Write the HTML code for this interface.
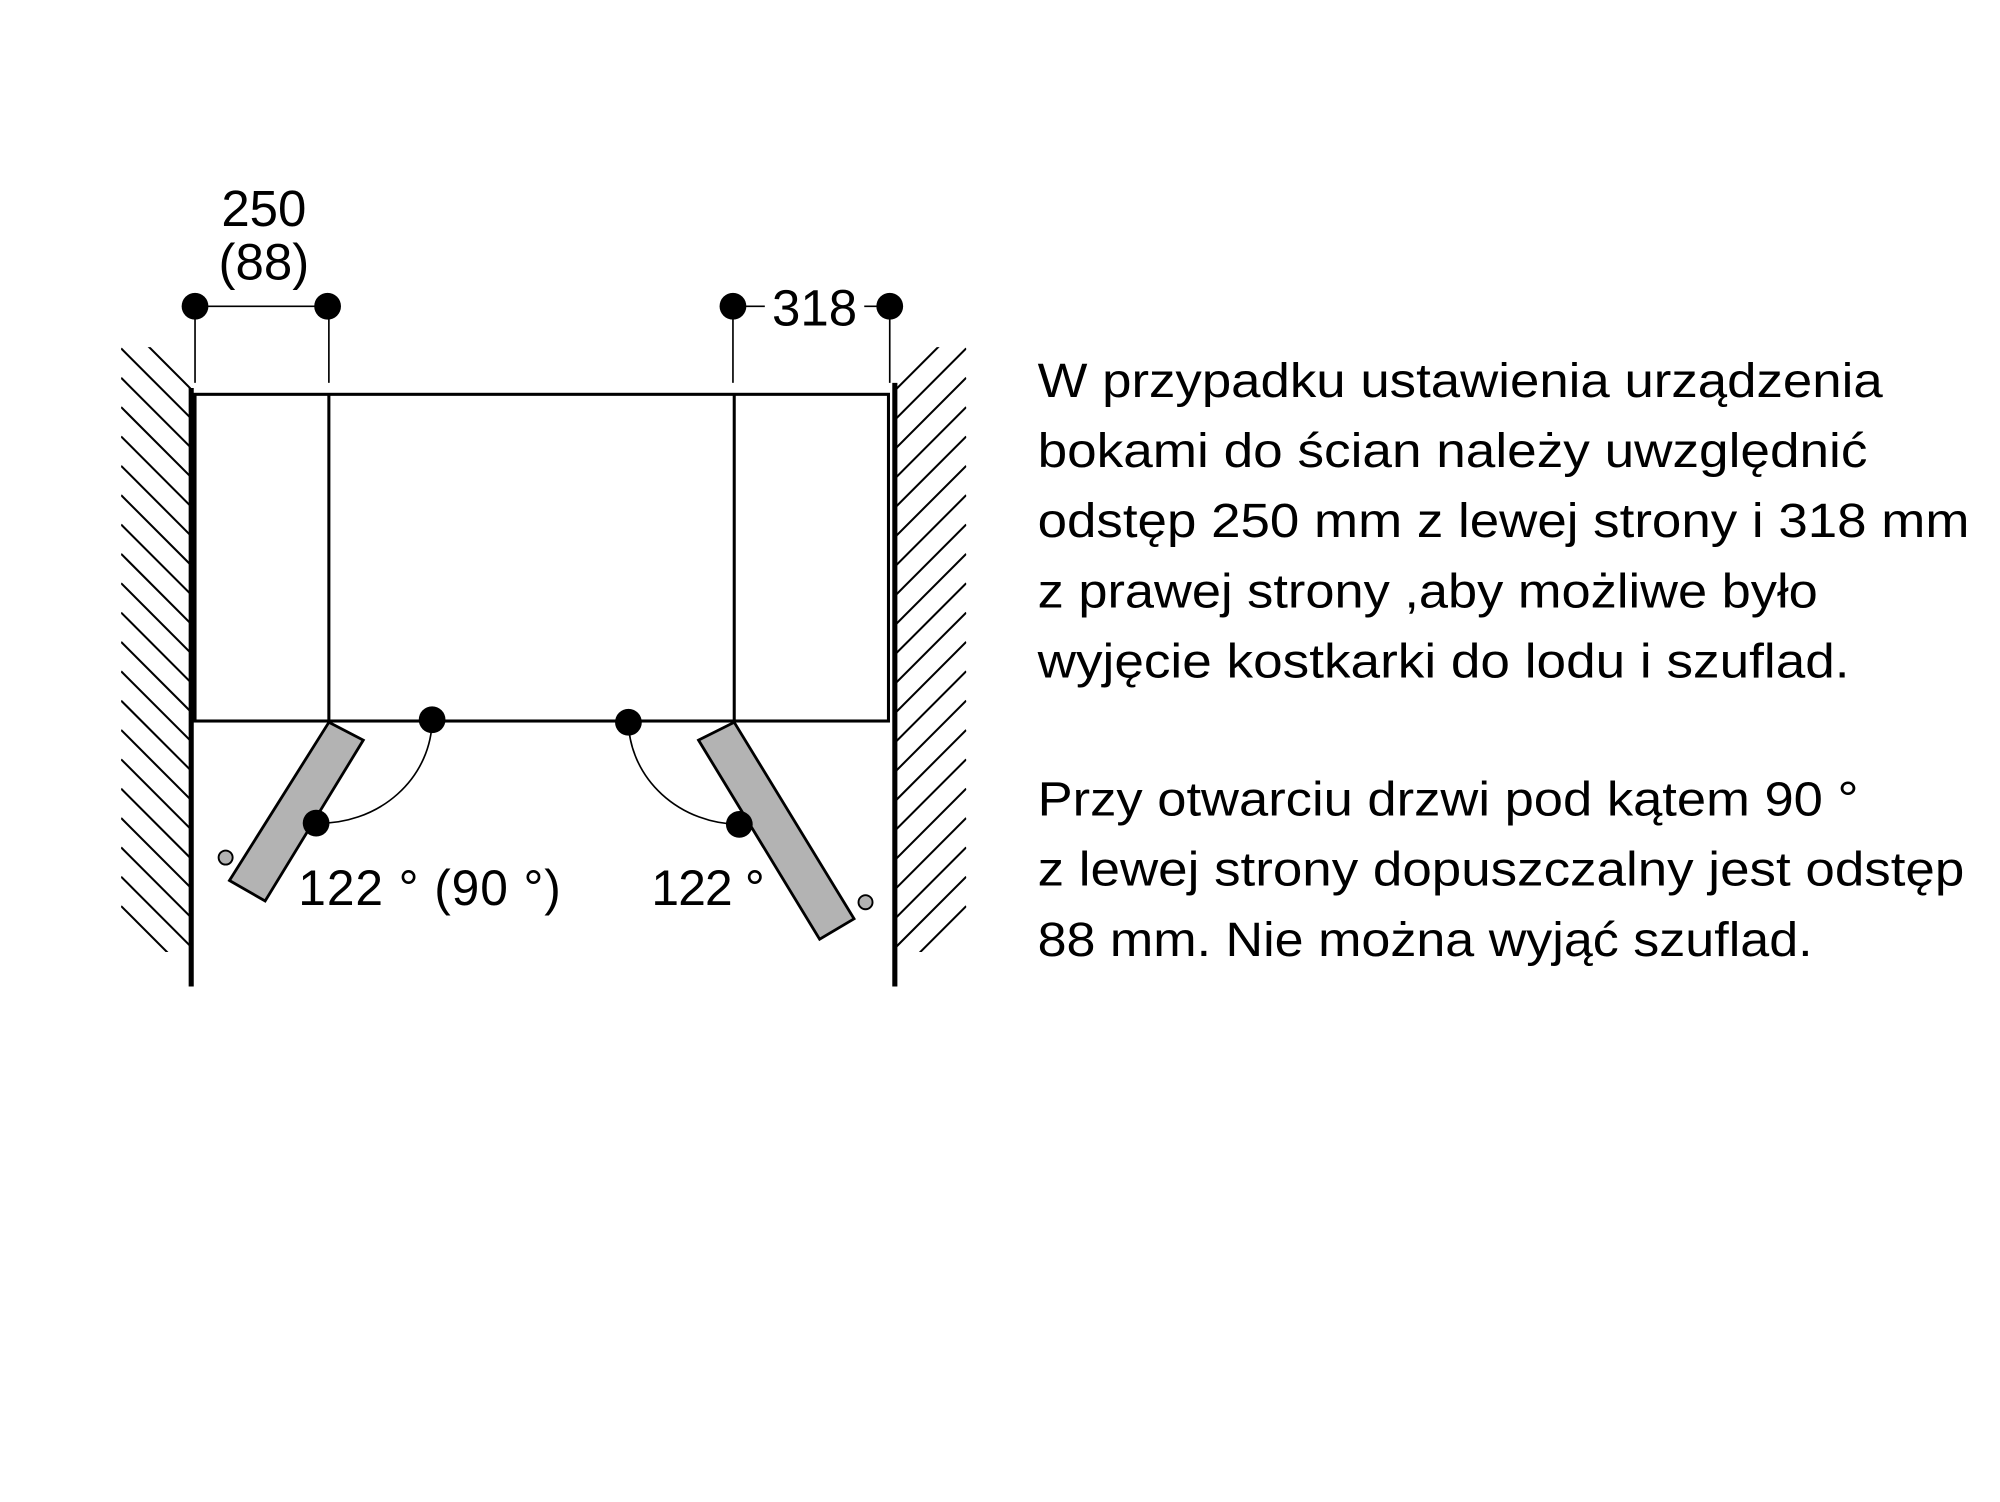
<!DOCTYPE html>
<html><head><meta charset="utf-8"><style>
html,body{margin:0;padding:0;background:#fff;}
svg{display:block;}
text{font-family:"Liberation Sans",sans-serif;fill:#000;}
</style></head><body>
<svg width="2000" height="1502" viewBox="0 0 1569 1177" preserveAspectRatio="none" xmlns="http://www.w3.org/2000/svg">
<defs>
<clipPath id="lh"><rect x="95" y="272" width="55" height="474"/></clipPath>
<clipPath id="rh"><rect x="702" y="272" width="56" height="474"/></clipPath>
</defs>
<g clip-path="url(#lh)" stroke="#000" stroke-width="1.6">
<line x1="95" y1="250" x2="170" y2="325"/><line x1="95" y1="273" x2="170" y2="348"/><line x1="95" y1="296" x2="170" y2="371"/><line x1="95" y1="319" x2="170" y2="394"/><line x1="95" y1="342" x2="170" y2="417"/><line x1="95" y1="365" x2="170" y2="440"/><line x1="95" y1="388" x2="170" y2="463"/><line x1="95" y1="411" x2="170" y2="486"/><line x1="95" y1="434" x2="170" y2="509"/><line x1="95" y1="457" x2="170" y2="532"/><line x1="95" y1="480" x2="170" y2="555"/><line x1="95" y1="503" x2="170" y2="578"/><line x1="95" y1="526" x2="170" y2="601"/><line x1="95" y1="549" x2="170" y2="624"/><line x1="95" y1="572" x2="170" y2="647"/><line x1="95" y1="595" x2="170" y2="670"/><line x1="95" y1="618" x2="170" y2="693"/><line x1="95" y1="641" x2="170" y2="716"/><line x1="95" y1="664" x2="170" y2="739"/><line x1="95" y1="687" x2="170" y2="762"/><line x1="95" y1="710" x2="170" y2="785"/>
</g>
<g clip-path="url(#rh)" stroke="#000" stroke-width="1.6">
<line x1="758" y1="250" x2="683" y2="325"/><line x1="758" y1="273" x2="683" y2="348"/><line x1="758" y1="296" x2="683" y2="371"/><line x1="758" y1="319" x2="683" y2="394"/><line x1="758" y1="342" x2="683" y2="417"/><line x1="758" y1="365" x2="683" y2="440"/><line x1="758" y1="388" x2="683" y2="463"/><line x1="758" y1="411" x2="683" y2="486"/><line x1="758" y1="434" x2="683" y2="509"/><line x1="758" y1="457" x2="683" y2="532"/><line x1="758" y1="480" x2="683" y2="555"/><line x1="758" y1="503" x2="683" y2="578"/><line x1="758" y1="526" x2="683" y2="601"/><line x1="758" y1="549" x2="683" y2="624"/><line x1="758" y1="572" x2="683" y2="647"/><line x1="758" y1="595" x2="683" y2="670"/><line x1="758" y1="618" x2="683" y2="693"/><line x1="758" y1="641" x2="683" y2="716"/><line x1="758" y1="664" x2="683" y2="739"/><line x1="758" y1="687" x2="683" y2="762"/><line x1="758" y1="710" x2="683" y2="785"/>
</g>
<line x1="150" y1="304" x2="150" y2="773" stroke="#000" stroke-width="4"/>
<line x1="702" y1="300" x2="702" y2="773" stroke="#000" stroke-width="4"/>
<rect x="153" y="309" width="544" height="256" fill="none" stroke="#000" stroke-width="2.4"/>
<line x1="258" y1="309" x2="258" y2="565" stroke="#000" stroke-width="2.4"/>
<line x1="576" y1="309" x2="576" y2="565" stroke="#000" stroke-width="2.4"/>
<g stroke="#000" stroke-width="1.3">
<line x1="153" y1="240" x2="257" y2="240"/>
<line x1="153" y1="240" x2="153" y2="300"/><line x1="258" y1="240" x2="258" y2="300"/>
<line x1="575" y1="240" x2="575" y2="300"/><line x1="698" y1="240" x2="698" y2="300"/>
<line x1="575" y1="240" x2="600" y2="240"/><line x1="678" y1="240" x2="698" y2="240"/>
</g>
<g fill="#000">
<circle cx="153" cy="240" r="10.5"/><circle cx="257" cy="240" r="10.5"/>
<circle cx="575" cy="240" r="10.5"/><circle cx="698" cy="240" r="10.5"/>
</g>
<text x="207" y="177" font-size="40" text-anchor="middle">250</text>
<text x="207" y="219" font-size="40" text-anchor="middle">(88)</text>
<text x="639" y="255" font-size="40" text-anchor="middle">318</text>
<polygon points="258,566 285,580 208,706 180,690" fill="#b3b3b3" stroke="#000" stroke-width="2.2"/>
<polygon points="548,580 576,566 670,720 643,736" fill="#b3b3b3" stroke="#000" stroke-width="2.2"/>
<path d="M339,564 A88,82 0 0 1 248,645" fill="none" stroke="#000" stroke-width="1.3"/>
<path d="M493,566 A88,82 0 0 0 580,646" fill="none" stroke="#000" stroke-width="1.3"/>
<g fill="#000">
<circle cx="339" cy="564" r="10.5"/><circle cx="493" cy="566" r="10.5"/>
<circle cx="248" cy="645" r="10.5"/><circle cx="580" cy="646" r="10.5"/>
</g>
<circle cx="177" cy="672" r="5.5" fill="#b3b3b3" stroke="#000" stroke-width="1.5"/>
<circle cx="679" cy="707" r="5.5" fill="#b3b3b3" stroke="#000" stroke-width="1.5"/>
<text x="234" y="709" font-size="39" textLength="206" lengthAdjust="spacing">122 ° (90 °)</text>
<text x="511" y="709" font-size="39" textLength="89" lengthAdjust="spacing">122 °</text>
<g font-size="38">
<text x="814" y="311" textLength="663" lengthAdjust="spacingAndGlyphs">W przypadku ustawienia urządzenia</text>
<text x="814" y="366" textLength="651" lengthAdjust="spacingAndGlyphs">bokami do ścian należy uwzględnić</text>
<text x="814" y="421" textLength="731" lengthAdjust="spacingAndGlyphs">odstęp 250 mm z lewej strony i 318 mm</text>
<text x="814" y="476" textLength="612" lengthAdjust="spacingAndGlyphs">z prawej strony ,aby możliwe było</text>
<text x="814" y="531" textLength="637" lengthAdjust="spacingAndGlyphs">wyjęcie kostkarki do lodu i szuflad.</text>
<text x="814" y="639" textLength="644" lengthAdjust="spacingAndGlyphs">Przy otwarciu drzwi pod kątem 90 °</text>
<text x="814" y="694" textLength="727" lengthAdjust="spacingAndGlyphs">z lewej strony dopuszczalny jest odstęp</text>
<text x="814" y="749" textLength="608" lengthAdjust="spacingAndGlyphs">88 mm. Nie można wyjąć szuflad.</text>
</g>
</svg>
</body></html>
